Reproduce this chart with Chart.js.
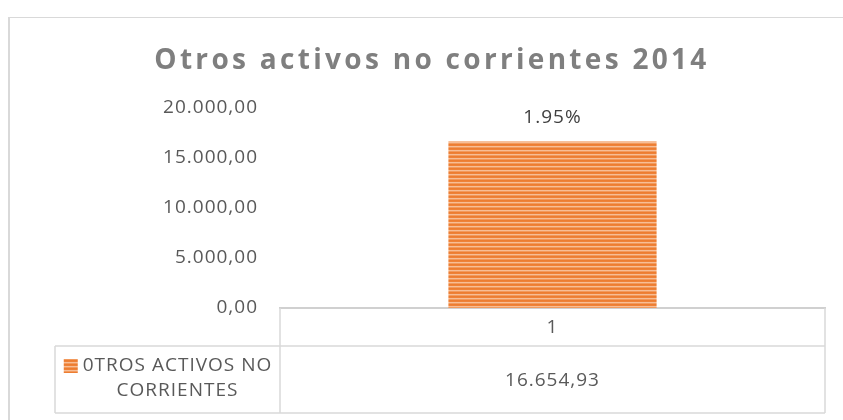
<!DOCTYPE html>
<html><head><meta charset="utf-8">
<script src="https://cdn.jsdelivr.net/npm/chart.js@4/dist/chart.umd.min.js"></script>
<style>html,body{margin:0;padding:0;background:#fff;overflow:hidden}#wrap{width:843px;height:420px}</style>
</head><body><div id="wrap"><canvas id="c" width="843" height="420"></canvas></div>
<script>
const TITLE = 'Otros activos no corrientes 2014';
const categories = ['1'];
const seriesName = '0TROS ACTIVOS NO CORRIENTES';
const seriesValues = [16654.93];
const dataLabels = ['1.95%'];
const yTicks = [0, 5000, 10000, 15000, 20000];

const FONT = '"Open Sans", "Noto Sans", sans-serif';
const TXT = '#595959';
const LINE = '#D9D9D9';

function fmt(v) {
  const neg = v < 0; v = Math.abs(v);
  let [i, d] = v.toFixed(2).split('.');
  i = i.replace(/\B(?=(\d{3})+(?!\d))/g, '.');
  return (neg ? '-' : '') + i + ',' + d;
}

const canvas = document.getElementById('c');
const ctx0 = canvas.getContext('2d');
function stripePattern(ctx) {
  const p = document.createElement('canvas');
  p.width = 4; p.height = 4;
  const g = p.getContext('2d');
  const cols = ['#ED7D31', '#EE8239', '#F7BE96', '#F29A5D'];
  cols.forEach((c, k) => { g.fillStyle = c; g.fillRect(0, k, 4, 1); });
  return ctx.createPattern(p, 'repeat');
}
const barFill = stripePattern(ctx0);

function wrapWords(ctx, text, maxW) {
  const words = text.split(' ');
  const lines = [];
  let cur = '';
  for (const w of words) {
    const t = cur ? cur + ' ' + w : w;
    if (ctx.measureText(t).width > maxW && cur) { lines.push(cur); cur = w; }
    else cur = t;
  }
  if (cur) lines.push(cur);
  return lines;
}

const extras = {
  id: 'extras',
  beforeDraw(chart) {
    const ctx = chart.ctx;
    ctx.save();
    ctx.fillStyle = LINE;
    ctx.fillRect(8, 17, 2, chart.height - 17);
    ctx.fillRect(8, 17, chart.width - 8, 1);
    ctx.restore();
    ctx.letterSpacing = '1px';
  },
  afterDraw(chart) {
    const ctx = chart.ctx;
    const a = chart.chartArea;
    const xs = chart.scales.x;
    const axisY = a.bottom;
    const rowY = axisY + 38;
    const bottomY = chart.height - 7;
    const legendLeft = 55;
    ctx.save();
    // title
    ctx.font = 'bold 28px ' + FONT;
    ctx.fillStyle = '#7F7F7F';
    ctx.textAlign = 'center';
    ctx.textBaseline = 'middle';
    ctx.letterSpacing = '3.3px';
    ctx.fillText(TITLE, 432, 61);
    ctx.letterSpacing = '1px';

    // table lines
    ctx.strokeStyle = LINE;
    ctx.lineWidth = 1.5;
    ctx.beginPath();
    ctx.moveTo(a.left, axisY); ctx.lineTo(a.left, bottomY);
    ctx.moveTo(a.right, axisY); ctx.lineTo(a.right, bottomY);
    ctx.moveTo(legendLeft, rowY); ctx.lineTo(a.right, rowY);
    ctx.moveTo(legendLeft, bottomY); ctx.lineTo(a.right, bottomY);
    ctx.moveTo(legendLeft, rowY); ctx.lineTo(legendLeft, bottomY);
    ctx.stroke();

    // legend cell
    ctx.font = '19px ' + FONT;
    ctx.fillStyle = TXT;
    const ds = chart.data.datasets[0];
    const lines = wrapWords(ctx, ds.label, 200);
    const cx = (legendLeft + a.left) / 2 + 10;
    const lh = 25;
    const cy = (rowY + bottomY) / 2 - 1;
    lines.forEach((ln, k) => {
      const y = cy + (k - (lines.length - 1) / 2) * lh;
      ctx.fillText(ln, cx, y);
      if (k === 0) {
        const w = ctx.measureText(ln).width;
        ctx.save();
        ctx.fillStyle = barFill;
        ctx.fillRect(cx - w / 2 - 19, y - 7, 14, 14);
        ctx.restore();
      }
    });

    // values row
    const meta = chart.getDatasetMeta(0);
    meta.data.forEach((el, i) => {
      ctx.fillStyle = TXT;
      ctx.fillText(fmt(ds.data[i]), xs.getPixelForValue(i), (rowY + bottomY) / 2 + 1);
      ctx.fillStyle = '#404040';
      ctx.fillText(dataLabels[i], el.x, el.y - 24);
    });
    ctx.restore();
  }
};

new Chart(canvas, {
  type: 'bar',
  data: {
    labels: categories,
    datasets: [{
      label: seriesName,
      data: seriesValues,
      backgroundColor: barFill,
      borderWidth: 0,
      barPercentage: 0.382,
      categoryPercentage: 1
    }]
  },
  options: {
    responsive: false,
    animation: false,
    devicePixelRatio: 1,
    layout: { padding: { top: 108, right: 18, bottom: 7, left: 0 } },
    plugins: { legend: { display: false }, title: { display: false }, tooltip: { enabled: false } },
    scales: {
      x: {
        grid: { display: false, drawTicks: false },
        border: { display: true, color: '#D0D0D0', width: 2 },
        ticks: { color: TXT, font: { family: FONT, size: 19 }, padding: 8 },
        afterFit(s) { s.height = 105; }
      },
      y: {
        min: 0, max: 20000,
        afterBuildTicks(s) { s.ticks = yTicks.map(v => ({ value: v })); },
        grid: { display: false, drawTicks: false },
        border: { display: false },
        ticks: { color: TXT, font: { family: FONT, size: 19 }, padding: 22, callback: v => fmt(v) },
        afterFit(s) { s.width = 280; }
      }
    }
  },
  plugins: [extras]
});
</script>
</body></html>
